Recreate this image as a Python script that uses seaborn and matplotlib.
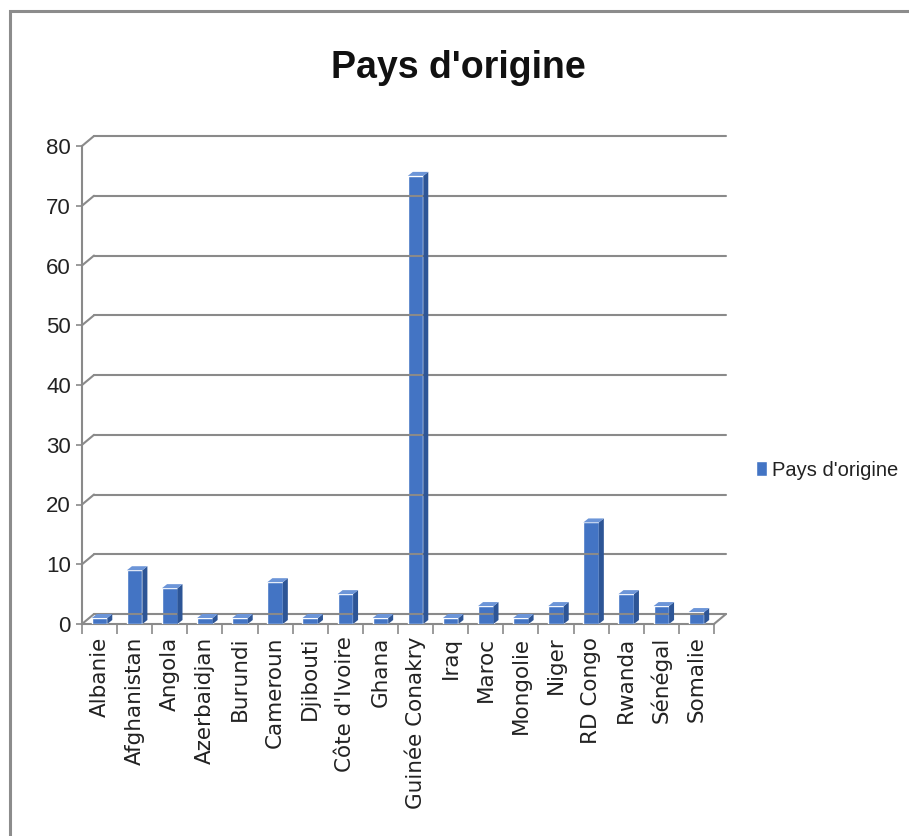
import matplotlib
matplotlib.use("Agg")
import matplotlib.pyplot as plt
import seaborn as sns
import pandas as pd
from matplotlib.lines import Line2D
from matplotlib.patches import Polygon, Rectangle
from matplotlib.transforms import IdentityTransform

countries = ["Albanie", "Afghanistan", "Angola", "Azerbaidjan", "Burundi", "Cameroun",
             "Djibouti", "Côte d'Ivoire", "Ghana", "Guinée Conakry", "Iraq", "Maroc",
             "Mongolie", "Niger", "RD Congo", "Rwanda", "Sénégal", "Somalie"]
counts = [1, 9, 6, 1, 1, 7, 1, 5, 1, 75, 1, 3, 1, 3, 17, 5, 3, 2]
y_ticks = [0, 10, 20, 30, 40, 50, 60, 70, 80]
series_name = "Pays d'origine"
title = "Pays d'origine"

sns.set_theme(style="white")
plt.rcParams['font.family'] = ['Liberation Sans', 'DejaVu Sans']

W, H = 909, 836
fig = plt.figure(figsize=(W / 100, H / 100), dpi=100)
fig.patch.set_facecolor("white")

# plot area (front plane)
x0, x1, y0, y1 = 82, 714, 624, 146
ax = fig.add_axes([x0 / W, 1 - y0 / H, (x1 - x0) / W, (y0 - y1) / H])
ax.set_facecolor("none")

df = pd.DataFrame({"pays": countries, "n": counts})
sns.barplot(data=df, x="pays", y="n", color="#4374C4", width=0.44, ax=ax,
            label=series_name, saturation=1, zorder=3)

ax.set_xlim(-0.5, len(countries) - 0.5)
ax.set_ylim(0, 80)
ax.set_yticks(y_ticks)
ax.set_xlabel("")
ax.set_ylabel("")

for s in ["top", "right"]:
    ax.spines[s].set_visible(False)
ax.spines["left"].set_color("#8a8a8a")
ax.spines["left"].set_linewidth(1.5)
ax.spines["bottom"].set_color("#8a8a8a")
ax.spines["bottom"].set_linewidth(1.5)

ax.tick_params(axis="y", direction="out", length=4, width=1.2, color="#8a8a8a",
               pad=4, labelsize=16, labelcolor="#222222", left=True)
ax.set_xticks(range(len(countries)))
ax.set_xticklabels(countries, rotation=90, fontsize=15.5, color="#222222",
                   family=["DejaVu Sans"])
ax.tick_params(axis="x", which="major", length=0, pad=9)
ax.set_xticks([i - 0.5 for i in range(len(countries) + 1)], minor=True)
ax.tick_params(axis="x", which="minor", direction="out", length=7, width=1.2,
               color="#8a8a8a", bottom=True)

# 3D-like back wall gridlines and floor
dx, dy = 12, 10
T = ax.transData
gc = "#8a8a8a"
for v in y_ticks:
    fx, fy = T.transform((-0.5, v))
    rx, ry = T.transform((len(countries) - 0.5, v))
    fig.add_artist(Line2D([fx, fx + dx], [fy, fy + dy], transform=IdentityTransform(),
                          color=gc, lw=1.5, zorder=1))
    fig.add_artist(Line2D([fx + dx, rx + dx], [fy + dy, ry + dy], transform=IdentityTransform(),
                          color=gc, lw=1.5, zorder=1))
# floor right edge
rx, ry = T.transform((len(countries) - 0.5, 0))
fig.add_artist(Line2D([rx, rx + dx], [ry, ry + dy], transform=IdentityTransform(),
                      color=gc, lw=1.5, zorder=1))

# bar depth faces
bdx, bdy = 5, 4
for p in ax.patches:
    bx, bw, bh = p.get_x(), p.get_width(), p.get_height()
    (lx, by) = T.transform((bx, 0))
    (rx2, ty) = T.transform((bx + bw, bh))
    (lx2, _) = T.transform((bx, bh))
    side = Polygon([[rx2, by], [rx2 + bdx, by + bdy], [rx2 + bdx, ty + bdy], [rx2, ty]],
                   closed=True, transform=IdentityTransform(), facecolor="#2D5596",
                   edgecolor="none", zorder=4)
    top = Polygon([[lx2, ty], [lx2 + bdx, ty + bdy], [rx2 + bdx, ty + bdy], [rx2, ty]],
                  closed=True, transform=IdentityTransform(), facecolor="#6C95D8",
                  edgecolor="none", zorder=4)
    fig.add_artist(side)
    fig.add_artist(top)

# legend
leg = ax.legend(loc="center left", bbox_to_anchor=(738 / W, 1 - 470 / H),
                bbox_transform=fig.transFigure, frameon=False, handlelength=0.55,
                handleheight=0.7, handletextpad=0.25, fontsize=14.5)
for t in leg.get_texts():
    t.set_color("#222222")

# title
fig.text(458 / W, 1 - 68 / H, title, ha="center", va="center", fontsize=27,
         fontweight="bold", color="#111111")

# outer chart frame
fig.add_artist(Rectangle((10 / W, -0.05), 1.1, 1 - 11 / H + 0.05, transform=fig.transFigure,
                         fill=False, edgecolor="#8c8c8c", lw=2.2))

fig.savefig("out.png", dpi=100)
